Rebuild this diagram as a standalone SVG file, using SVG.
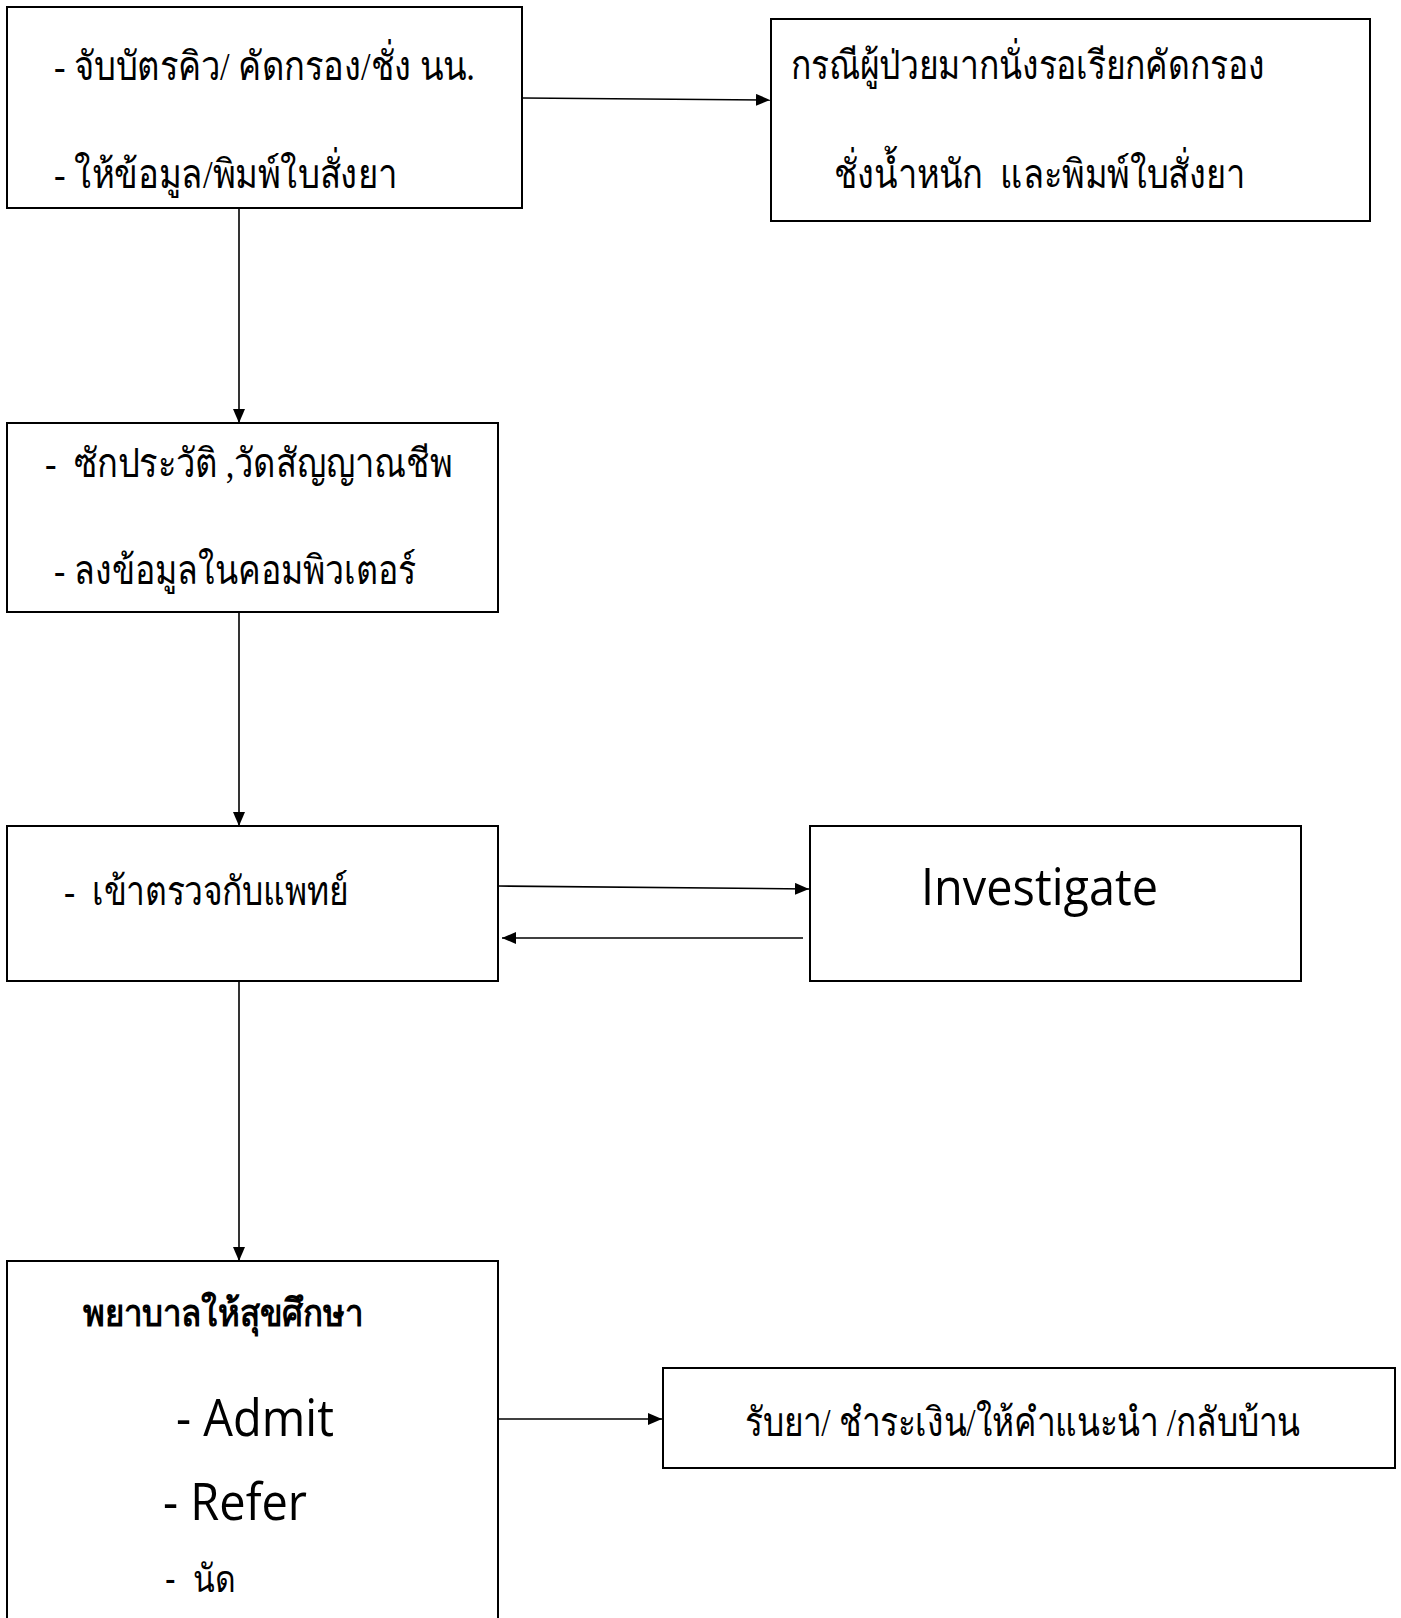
<svg xmlns="http://www.w3.org/2000/svg" width="1401" height="1618" viewBox="0 0 1401 1618">
<style>
.box{fill:#fff;stroke:#000;stroke-width:2}
text{white-space:pre}
.th{font-family:"Liberation Serif",serif;font-size:40px;fill:#000}
.en{font-family:"Open Sans",sans-serif;font-size:52px;fill:#000}
.thb{font-family:"Liberation Sans",sans-serif;font-size:38px;font-weight:bold;fill:#000}
.ths{font-family:"Liberation Sans",sans-serif;font-size:38px;fill:#000}
.c{stroke:#000;stroke-width:1.6;fill:none;marker-end:url(#ah)}
</style>
<defs>
<marker id="ah" viewBox="0 0 14 12" refX="14" refY="6" markerWidth="14" markerHeight="12" markerUnits="userSpaceOnUse" orient="auto">
<path d="M0,0 L14,6 L0,12 z" fill="#000"/>
</marker>
</defs>
<rect width="1401" height="1618" fill="#fff"/>
<g id="connectors">
<path class="c" d="M523,98 L770,100"/>
<path class="c" d="M239,208 L239,423"/>
<path class="c" d="M239,609 L239,826"/>
<path class="c" d="M498,886 L809,889"/>
<path class="c" d="M803,938 L502,938"/>
<path class="c" d="M239,977 L239,1261"/>
<path class="c" d="M498,1419 L662,1419"/>
</g>
<g id="n1">
<rect class="box" x="7" y="7" width="515" height="201"/>
<text class="th" x="54" y="80" textLength="421" lengthAdjust="spacingAndGlyphs">- จับบัตรคิว/ คัดกรอง/ชั่ง นน.</text>
<text class="th" x="54" y="188" textLength="343" lengthAdjust="spacingAndGlyphs">- ให้ข้อมูล/พิมพ์ใบสั่งยา</text>
</g>
<g id="n2">
<rect class="box" x="771" y="19" width="599" height="202"/>
<text class="th" x="791" y="79" textLength="474" lengthAdjust="spacingAndGlyphs">กรณีผู้ป่วยมากนั่งรอเรียกคัดกรอง</text>
<text class="th" x="834" y="188" textLength="411" lengthAdjust="spacingAndGlyphs">ชั่งน้ำหนัก  และพิมพ์ใบสั่งยา</text>
</g>
<g id="n3">
<rect class="box" x="7" y="423" width="491" height="189"/>
<text class="th" x="45" y="477" textLength="407" lengthAdjust="spacingAndGlyphs">-  ซักประวัติ ,วัดสัญญาณชีพ</text>
<text class="th" x="54" y="584" textLength="362" lengthAdjust="spacingAndGlyphs">- ลงข้อมูลในคอมพิวเตอร์</text>
</g>
<g id="n4">
<rect class="box" x="7" y="826" width="491" height="155"/>
<text class="th" x="64" y="905" textLength="284" lengthAdjust="spacingAndGlyphs">-  เข้าตรวจกับแพทย์</text>
</g>
<g id="n5">
<rect class="box" x="810" y="826" width="491" height="155"/>
<text class="en" x="921" y="905" textLength="237" lengthAdjust="spacingAndGlyphs">Investigate</text>
</g>
<g id="n6">
<rect class="box" x="7" y="1261" width="491" height="380"/>
<text class="thb" x="83" y="1326" textLength="280" lengthAdjust="spacingAndGlyphs">พยาบาลให้สุขศึกษา</text>
<text class="en" x="176" y="1436" textLength="158" lengthAdjust="spacingAndGlyphs">- Admit</text>
<text class="en" x="163" y="1520" textLength="144" lengthAdjust="spacingAndGlyphs">- Refer</text>
<text class="ths" x="165" y="1592" textLength="71" lengthAdjust="spacingAndGlyphs">-  นัด</text>
</g>
<g id="n7">
<rect class="box" x="663" y="1368" width="732" height="100"/>
<text class="th" x="745" y="1436" font-size="38" textLength="555" lengthAdjust="spacingAndGlyphs">รับยา/ ชำระเงิน/ให้คำแนะนำ /กลับบ้าน</text>
</g>
</svg>
